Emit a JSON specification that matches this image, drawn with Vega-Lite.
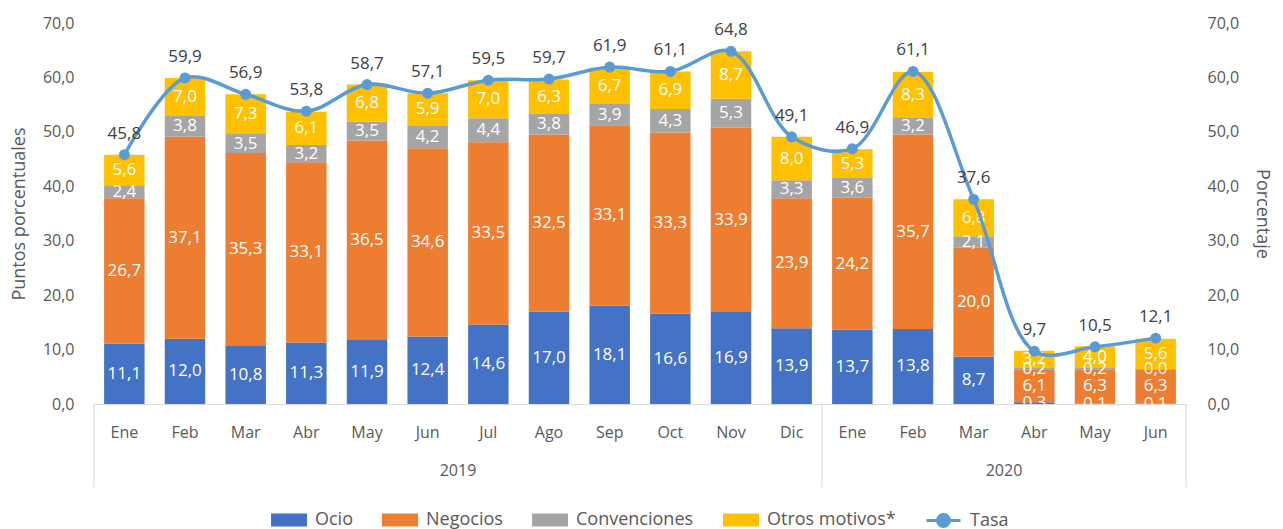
{
  "$schema": "https://vega.github.io/schema/vega-lite/v6.json",
  "width": 1092,
  "height": 381,
  "autosize": {"type": "none"},
  "padding": {"left": 94, "top": 23, "right": 97, "bottom": 125},
  "background": "white",
  "config": {
    "font": "Open Sans",
    "view": {"stroke": null},
    "locale": {"number": {"decimal": ",", "thousands": ".", "grouping": [3], "currency": ["", " €"]}},
    "axis": {"labelFont": "Open Sans", "labelFontSize": 16, "labelColor": "#595959", "titleFont": "Open Sans", "titleFontSize": 18, "titleFontWeight": "normal", "titleColor": "#595959", "grid": false, "ticks": false},
    "legend": {"labelFont": "Open Sans", "labelFontSize": 18, "labelColor": "#595959", "layout": {"bottom": {"anchor": "middle", "direction": "horizontal", "margin": 29}}}
  },
  "data": {"values": [
    {"k": "2019-01", "Ocio": 11.1, "Negocios": 26.7, "Convenciones": 2.4, "Otros": 5.6, "tasa": 45.8},
    {"k": "2019-02", "Ocio": 12.0, "Negocios": 37.1, "Convenciones": 3.8, "Otros": 7.0, "tasa": 59.9},
    {"k": "2019-03", "Ocio": 10.8, "Negocios": 35.3, "Convenciones": 3.5, "Otros": 7.3, "tasa": 56.9},
    {"k": "2019-04", "Ocio": 11.3, "Negocios": 33.1, "Convenciones": 3.2, "Otros": 6.1, "tasa": 53.8},
    {"k": "2019-05", "Ocio": 11.9, "Negocios": 36.5, "Convenciones": 3.5, "Otros": 6.8, "tasa": 58.7},
    {"k": "2019-06", "Ocio": 12.4, "Negocios": 34.6, "Convenciones": 4.2, "Otros": 5.9, "tasa": 57.1},
    {"k": "2019-07", "Ocio": 14.6, "Negocios": 33.5, "Convenciones": 4.4, "Otros": 7.0, "tasa": 59.5},
    {"k": "2019-08", "Ocio": 17.0, "Negocios": 32.5, "Convenciones": 3.8, "Otros": 6.3, "tasa": 59.7},
    {"k": "2019-09", "Ocio": 18.1, "Negocios": 33.1, "Convenciones": 3.9, "Otros": 6.7, "tasa": 61.9},
    {"k": "2019-10", "Ocio": 16.6, "Negocios": 33.3, "Convenciones": 4.3, "Otros": 6.9, "tasa": 61.1},
    {"k": "2019-11", "Ocio": 16.9, "Negocios": 33.9, "Convenciones": 5.3, "Otros": 8.7, "tasa": 64.8},
    {"k": "2019-12", "Ocio": 13.9, "Negocios": 23.9, "Convenciones": 3.3, "Otros": 8.0, "tasa": 49.1},
    {"k": "2020-01", "Ocio": 13.7, "Negocios": 24.2, "Convenciones": 3.6, "Otros": 5.3, "tasa": 46.9},
    {"k": "2020-02", "Ocio": 13.8, "Negocios": 35.7, "Convenciones": 3.2, "Otros": 8.3, "tasa": 61.1},
    {"k": "2020-03", "Ocio": 8.7, "Negocios": 20.0, "Convenciones": 2.1, "Otros": 6.8, "tasa": 37.6},
    {"k": "2020-04", "Ocio": 0.3, "Negocios": 6.1, "Convenciones": 0.2, "Otros": 3.2, "tasa": 9.7},
    {"k": "2020-05", "Ocio": 0.1, "Negocios": 6.3, "Convenciones": 0.2, "Otros": 4.0, "tasa": 10.5},
    {"k": "2020-06", "Ocio": 0.1, "Negocios": 6.3, "Convenciones": 0.0, "Otros": 5.6, "tasa": 12.1}
  ]},
  "encoding": {
    "x": {
      "field": "k", "type": "ordinal", "title": null,
      "scale": {"paddingInner": 0, "paddingOuter": 0},
      "axis": {"labelAngle": 0, "domainColor": "#D9D9D9", "domainWidth": 1, "labelPadding": 20,
               "labelExpr": "['Ene','Feb','Mar','Abr','May','Jun','Jul','Ago','Sep','Oct','Nov','Dic'][toNumber(substring(datum.value,5,7))-1]"}
    }
  },
  "layer": [
    {
      "layer": [
        {
          "transform": [
            {"fold": ["Ocio", "Negocios", "Convenciones", "Otros"], "as": ["cat", "val"]},
            {"calculate": "indexof(['Ocio','Negocios','Convenciones','Otros'], datum.cat)", "as": "ord"},
            {"stack": "val", "groupby": ["k"], "sort": [{"field": "ord", "order": "ascending"}], "as": ["v0", "v1"]},
            {"calculate": "(datum.v0 + datum.v1) / 2", "as": "mid"}
          ],
          "layer": [
            {
              "mark": {"type": "bar", "width": {"band": 0.667}},
              "encoding": {
                "y": {"field": "v0", "type": "quantitative", "scale": {"domain": [0, 70]},
                      "axis": {"title": "Puntos porcentuales", "values": [0,10,20,30,40,50,60,70], "format": ".1f", "domain": false, "labelPadding": 20, "titlePadding": 14}},
                "y2": {"field": "v1"},
                "fill": {"field": "cat", "type": "nominal",
                         "scale": {"domain": ["Ocio", "Negocios", "Convenciones", "Otros"], "range": ["#4472C4", "#ED7D31", "#A5A5A5", "#FFC000"]},
                         "legend": {"title": null, "orient": "bottom", "direction": "horizontal", "symbolType": "M-1,-0.36H1V0.36H-1Z", "symbolSize": 1296, "symbolStrokeWidth": 0, "labelOffset": 8, "columnPadding": 29, "offset": 62,
                                    "labelExpr": "datum.label == 'Otros' ? 'Otros motivos*' : datum.label"}}
              }
            },
            {
              "mark": {"type": "text", "color": "white", "fontSize": 17, "clip": true},
              "encoding": {
                "y": {"field": "mid", "type": "quantitative"},
                "text": {"field": "val", "type": "quantitative", "format": ".1f"}
              }
            }
          ]
        },
        {
          "data": {"values": [{"k": "2019-01"}, {"k": "2020-01"}]},
          "mark": {"type": "rule", "color": "#D9D9D9", "strokeWidth": 1},
          "encoding": {
            "x": {"field": "k", "type": "ordinal", "bandPosition": 0},
            "y": {"datum": 0, "type": "quantitative"},
            "y2": {"datum": -15.3}
          }
        },
        {
          "data": {"values": [{"k": "2020-06"}]},
          "mark": {"type": "rule", "color": "#D9D9D9", "strokeWidth": 1},
          "encoding": {
            "x": {"field": "k", "type": "ordinal", "bandPosition": 1},
            "y": {"datum": 0, "type": "quantitative"},
            "y2": {"datum": -15.3}
          }
        },
        {
          "data": {"values": [{"k": "2019-06", "t": "2019"}, {"k": "2020-03", "t": "2020"}]},
          "mark": {"type": "text", "fontSize": 16, "color": "#595959"},
          "encoding": {
            "x": {"field": "k", "type": "ordinal", "bandPosition": 1},
            "y": {"datum": -12.3, "type": "quantitative"},
            "text": {"field": "t"}
          }
        }
      ]
    },
    {
      "layer": [
        {
          "mark": {"type": "line", "interpolate": "catmull-rom", "strokeWidth": 3.5},
          "encoding": {
            "y": {"field": "tasa", "type": "quantitative", "scale": {"domain": [0, 70]},
                  "axis": {"orient": "right", "title": "Porcentaje", "values": [0,10,20,30,40,50,60,70], "format": ".1f", "domain": false, "labelPadding": 21, "titlePadding": 14}},
            "stroke": {"datum": "Tasa", "scale": {"range": ["#5B9BD5"]},
                       "legend": {"title": null, "orient": "bottom", "symbolType": "M-1,0H1M-0.35,0A0.35,0.35 0 1,1 0.35,0A0.35,0.35 0 1,1 -0.35,0Z", "symbolSize": 1156, "symbolStrokeWidth": 3, "symbolFillColor": "#5B9BD5", "labelOffset": 8, "offset": 62}}
          }
        },
        {
          "mark": {"type": "point", "filled": true, "size": 120, "color": "#5B9BD5", "opacity": 1},
          "encoding": {"y": {"field": "tasa", "type": "quantitative"}}
        },
        {
          "mark": {"type": "text", "fontSize": 17, "color": "#404040", "dy": -21},
          "encoding": {
            "y": {"field": "tasa", "type": "quantitative"},
            "text": {"field": "tasa", "type": "quantitative", "format": ".1f"}
          }
        }
      ]
    }
  ],
  "resolve": {"scale": {"y": "independent"}}
}
